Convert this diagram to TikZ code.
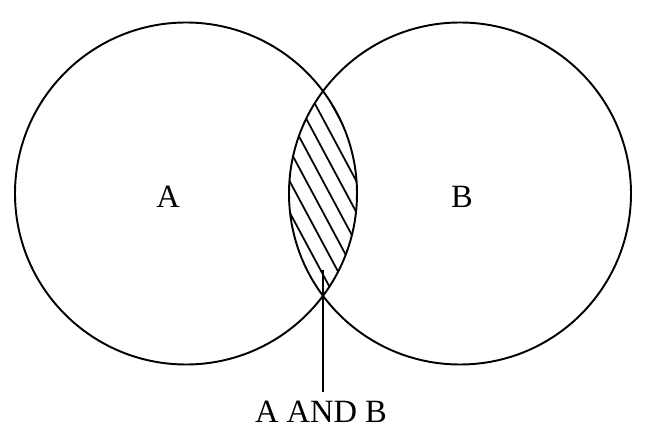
\documentclass[tikz,border=0pt]{standalone}
\usepackage{fontspec}
\setmainfont{Liberation Serif}
\begin{document}
\begin{tikzpicture}[line width=1.1pt, font=\fontsize{18.5}{21}\selectfont]
    \useasboundingbox (0,0) rectangle (13.12,8.74);
    \coordinate (cA) at (3.72,4.87);
    \coordinate (cB) at (9.20,4.87);
    % hatched overlap
    \begin{scope}
        \clip (cA) circle (3.42);
        \clip (cB) circle (3.42);
        \foreach \k in {-8,...,3} {
            \draw[line width=1pt] ({6.948+\k*0.334+1.34}, 2.33) -- ({6.948+\k*0.334-1.34}, 7.33);
        }
    \end{scope}
    \draw (cA) circle (3.42);
    \draw (cB) circle (3.42);
    \node (labA) at (3.36,4.80) {A};
    \node (labB) at (9.24,4.80) {B};
    \coordinate (tip) at (6.46,3.34);
    \node[anchor=base, inner ysep=5pt] (labAB) at (6.42,0.28) {A AND B};
    \draw (tip) -- (labAB.north -| tip);
\end{tikzpicture}
\end{document}
